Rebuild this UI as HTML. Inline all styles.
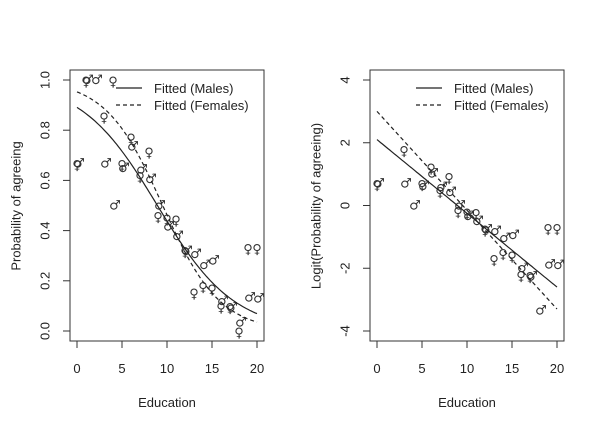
<!DOCTYPE html>
<html><head><meta charset="utf-8"><style>
html,body{margin:0;padding:0;background:#fff}
svg{display:block;font-family:"Liberation Sans",Arial,sans-serif}
.sym{font-family:"DejaVu Sans",sans-serif;font-size:13px;fill:#333}
</style></head><body>
<svg id="chart" width="600" height="429" viewBox="0 0 600 429" xmlns="http://www.w3.org/2000/svg"></svg>
<script>
const education = [0,1,2,3,4,5,6,7,8,9,10,11,12,13,14,15,16,17,18,19,20];
const maleProp = [0.667,1.0,1.0,0.667,0.5,0.65,0.735,0.643,0.605,0.5,0.416,0.379,0.319,0.307,0.262,0.281,0.12,0.094,0.034,0.133,0.13];
const femaleProp = [0.667,1.0,null,0.857,1.0,0.667,0.773,0.619,0.717,0.46,0.45,0.446,0.32,0.156,0.182,0.171,0.10,0.097,0.0,0.333,0.333];
const maleCoef = [2.10, -0.235];
const femaleCoef = [3.00, -0.315];
const xTicks = [0,5,10,15,20];
const yTicksProb = ["0.0","0.2","0.4","0.6","0.8","1.0"];
const yTicksLogit = ["-4","-2","0","2","4"];

const NS="http://www.w3.org/2000/svg";
const svg=document.getElementById('chart');
function el(tag,attrs,parent){const e=document.createElementNS(NS,tag);for(const k in attrs)e.setAttribute(k,attrs[k]);(parent||svg).appendChild(e);return e;}
const logit=p=>Math.log(p/(1-p));
const expit=z=>1/(1+Math.exp(-z));

function panel(ox,name,ymin,ymax,yTicks,ylabel,transform){
  const g=el('g',{});
  
  
  const X=v=>ox+77+v*9;
  const Y=v=>331-(v-ymin)/(ymax-ymin)*251;
  const box=el('rect',{x:ox+70,y:70,width:194,height:271,fill:'none',stroke:'#333','stroke-width':1},g);
  
  
  xTicks.forEach(t=>{
    el('line',{x1:X(t),x2:X(t),y1:341,y2:348,stroke:'#333'},g);
    const tx=el('text',{x:X(t),y:373,'text-anchor':'middle','font-size':13,fill:'#222'},g);
    tx.textContent=t;
    
    
  });
  yTicks.forEach(s=>{
    const v=parseFloat(s);
    el('line',{x1:ox+63,x2:ox+70,y1:Y(v),y2:Y(v),stroke:'#333'},g);
    const tx=el('text',{x:ox+45,y:Y(v),'text-anchor':'middle','font-size':13,fill:'#222',transform:`rotate(-90 ${ox+45} ${Y(v)})`,'dominant-baseline':'central'},g);
    tx.textContent=s;
    
    
  });
  const xl=el('text',{x:ox+167,y:407,'text-anchor':'middle','font-size':13,fill:'#222'},g);
  xl.textContent='Education';
  
  
  const yl=el('text',{x:ox+16,y:206,'text-anchor':'middle','font-size':13,fill:'#222',transform:`rotate(-90 ${ox+16} 206)`,'dominant-baseline':'central'},g);
  yl.textContent=ylabel;
  
  
  [[maleProp,'\u2642','male-point'],[femaleProp,'\u2640','female-point']].forEach(([arr,sym,nm])=>{
    arr.forEach((p,i)=>{
      if(p===null)return;
      const v=transform(p);
      if(!isFinite(v))return;
      const t=el('text',{x:X(education[i])+(sym==='\u2642'?2:0),y:Y(v)+(sym==='\u2642'?4:6),'text-anchor':'middle',class:'sym'},g);
      t.textContent=sym;
      
      
    });
  });
  [[maleCoef,null,'fitted-males-line'],[femaleCoef,'4,3','fitted-females-line']].forEach(([c,dash,nm])=>{
    let d='';
    for(let k=0;k<=100;k++){const x=k*0.2;const v=transform(expit(c[0]+c[1]*x));d+=(k?'L':'M')+X(x).toFixed(1)+','+Y(v).toFixed(1);}
    const a={d:d,fill:'none',stroke:'#222','stroke-width':1.2};
    if(dash)a['stroke-dasharray']=dash;
    const p=el('path',a,g);
    
    
  });
  const lg=el('g',{},g);
  
  
  el('line',{x1:ox+116,x2:ox+142,y1:88,y2:88,stroke:'#222','stroke-width':1.2},lg);
  el('line',{x1:ox+116,x2:ox+142,y1:105,y2:105,stroke:'#222','stroke-width':1.2,'stroke-dasharray':'4,3'},lg);
  const l1=el('text',{x:ox+154,y:93,'font-size':13,fill:'#222'},lg);l1.textContent='Fitted (Males)';
  
  
  const l2=el('text',{x:ox+154,y:110,'font-size':13,fill:'#222'},lg);l2.textContent='Fitted (Females)';
  
  
}
panel(0,'probability-panel',0,1,yTicksProb,'Probability of agreeing',p=>p);
panel(300,'logit-panel',-4,4,yTicksLogit,'Logit(Probability of agreeing)',logit);
</script>
</body></html>
